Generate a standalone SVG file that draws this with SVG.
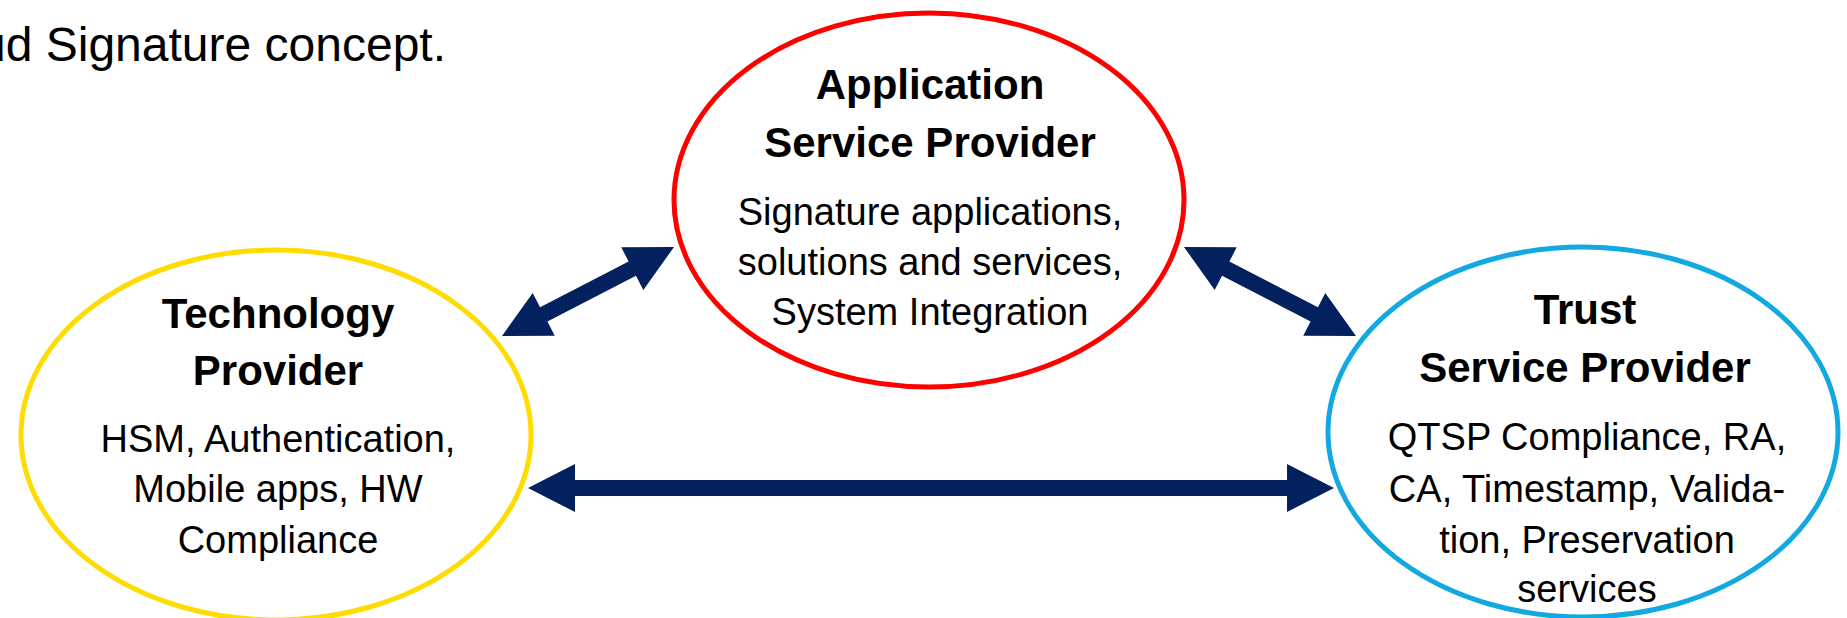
<svg xmlns="http://www.w3.org/2000/svg" width="1847" height="618" viewBox="0 0 1847 618">
<style>
  .ell { fill: #FFFFFF; stroke-width: 5; }
  .t { font-family: "Liberation Sans", Arial, sans-serif; fill: #000000; text-anchor: middle; }
  .h { font-size: 42px; font-weight: bold; }
  .b { font-size: 38px; }
  .arr { fill: #03215E; }
</style>
<rect x="0" y="0" width="1847" height="618" fill="#FFFFFF"/>
<text class="t" x="446" y="61" style="font-size:48px;text-anchor:end">ud Signature concept.</text>

<g id="connectors">
  <polygon class="arr" transform="translate(502,336) rotate(-27.36)" points="0,0 47,-24 47,-8 146.7,-8 146.7,-24 193.7,0 146.7,24 146.7,8 47,8 47,24"/>
  <polygon class="arr" transform="translate(1356,336) rotate(-152.64)" points="0,0 47,-24 47,-8 146.7,-8 146.7,-24 193.7,0 146.7,24 146.7,8 47,8 47,24"/>
  <polygon class="arr" points="528,488 575,464 575,480 1287,480 1287,464 1334,488 1287,512 1287,496 575,496 575,512"/>
</g>

<g id="application-service-provider">
  <ellipse class="ell" cx="929" cy="200" rx="255" ry="187" stroke="#FF0000"/>
  <text class="t h" x="930" y="99">Application</text>
  <text class="t h" x="930" y="157">Service Provider</text>
  <text class="t b" x="930" y="225">Signature applications,</text>
  <text class="t b" x="930" y="275">solutions and services,</text>
  <text class="t b" x="930" y="325">System Integration</text>
</g>

<g id="technology-provider">
  <ellipse class="ell" cx="276" cy="435" rx="255" ry="185" stroke="#FFDC00"/>
  <text class="t h" x="278" y="328">Technology</text>
  <text class="t h" x="278" y="385">Provider</text>
  <text class="t b" x="278" y="452">HSM, Authentication,</text>
  <text class="t b" x="278" y="502">Mobile apps, HW</text>
  <text class="t b" x="278" y="553">Compliance</text>
</g>

<g id="trust-service-provider">
  <ellipse class="ell" cx="1583" cy="432" rx="255" ry="185" stroke="#12A8E2"/>
  <text class="t h" x="1585" y="324">Trust</text>
  <text class="t h" x="1585" y="382">Service Provider</text>
  <text class="t b" x="1587" y="450">QTSP Compliance, RA,</text>
  <text class="t b" x="1587" y="502">CA, Timestamp, Valida-</text>
  <text class="t b" x="1587" y="553">tion, Preservation</text>
  <text class="t b" x="1587" y="602">services</text>
</g>
</svg>
